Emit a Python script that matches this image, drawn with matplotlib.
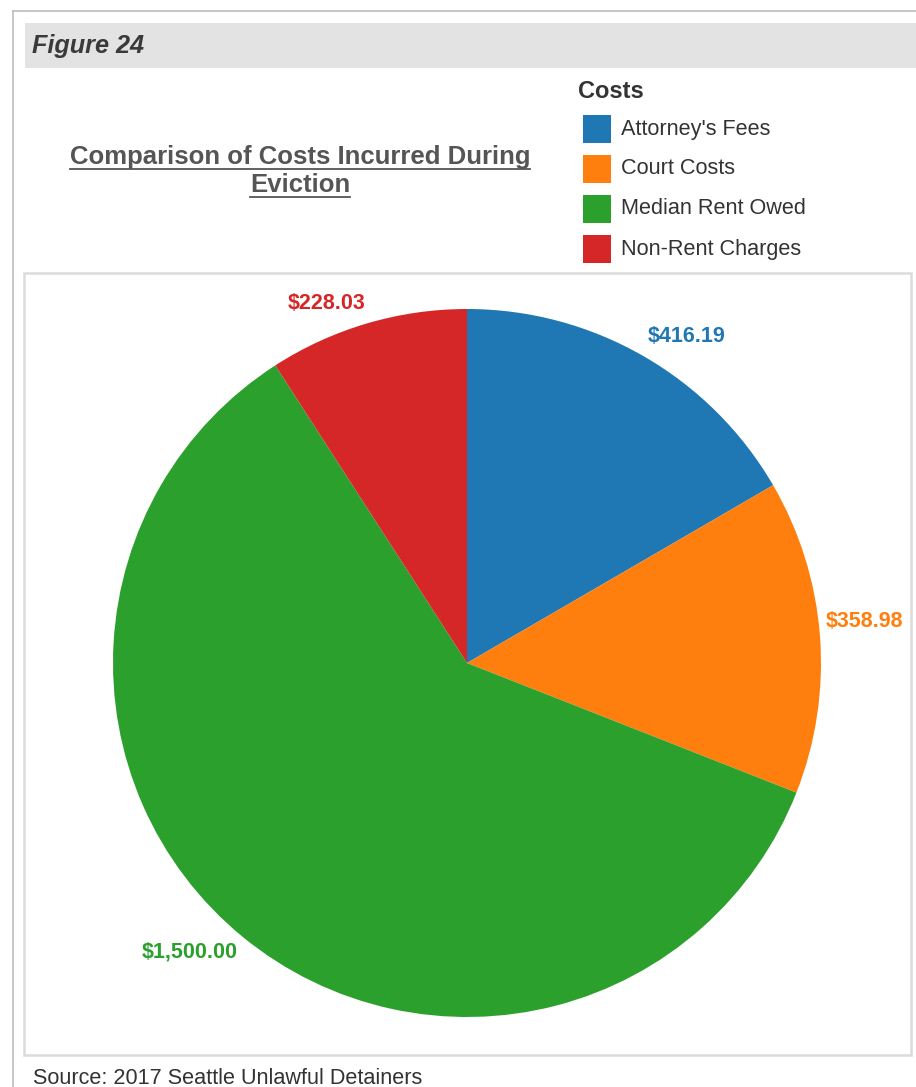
import numpy as np
import matplotlib
matplotlib.use("Agg")
import matplotlib.pyplot as plt
from matplotlib.patches import Rectangle
from matplotlib.lines import Line2D

categories = ["Attorney's Fees", "Court Costs", "Median Rent Owed", "Non-Rent Charges"]
values = [416.19, 358.98, 1500.00, 228.03]
labels = ["$416.19", "$358.98", "$1,500.00", "$228.03"]
colors = ["#1f77b4", "#ff7f0e", "#2ca02c", "#d62728"]

plt.rcParams['font.family'] = ['Liberation Sans', 'DejaVu Sans']

W, H = 916, 1087
fig = plt.figure(figsize=(W / 100, H / 100), dpi=100)
fig.patch.set_facecolor('white')

def px(x, y):
    return x / W, 1 - y / H

# outer frame lines
fig.add_artist(Line2D([13 / W, 13 / W], [px(0, 11)[1], 0], color='#bdbdbd', lw=1.2))
fig.add_artist(Line2D([13 / W, 1], [px(0, 11)[1]] * 2, color='#bdbdbd', lw=1.2))
# header band
fig.add_artist(Rectangle(px(25, 68), (W - 25) / W, 45 / H, color='#e3e3e3', lw=0))
fig.text(*px(32, 46), "Figure 24", fontsize=18.2, fontweight='bold', fontstyle='italic',
         color='#3a3a3a', va='center', ha='left')

# title with underline
tx = 300
t1 = fig.text(*px(tx, 157), "Comparison of Costs Incurred During", fontsize=18.5,
              fontweight='bold', color='#555555', ha='center', va='center')
t2 = fig.text(*px(tx, 185), "Eviction", fontsize=18.5, fontweight='bold',
              color='#555555', ha='center', va='center')
renderer = fig.canvas.get_renderer()
for t, uy in [(t1, 169), (t2, 197)]:
    bb = t.get_window_extent(renderer=renderer)
    fig.add_artist(Line2D([bb.x0 / W, bb.x1 / W], [px(0, uy)[1]] * 2,
                          color='#555555', lw=1.3))

# legend
fig.text(*px(578, 91), "Costs", fontsize=17, fontweight='bold', color='#333333',
         ha='left', va='center')
for i, (c, name) in enumerate(zip(colors, categories)):
    y0 = 115 + 40 * i
    fig.add_artist(Rectangle(px(583, y0 + 28), 28 / W, 28 / H, color=c, lw=0))
    fig.text(*px(621, y0 + 14), name, fontsize=15.6, color='#333333', ha='left', va='center')

# inner plot box
fig.add_artist(Rectangle(px(24, 1055), (911 - 24) / W, (1055 - 273) / H, fill=False,
                         edgecolor='#dcdcdc', lw=1.8))

# pie
cx, cy, r = 467, 663, 354
ax = fig.add_axes([(cx - r) / W, 1 - (cy + r) / H, 2 * r / W, 2 * r / H])
wedges, _ = ax.pie(values, colors=colors, startangle=90, counterclock=False,
                   radius=1, wedgeprops=dict(linewidth=0))
ax.set_xlim(-1, 1)
ax.set_ylim(-1, 1)
ax.set_aspect('equal')
ax.axis('off')

label_r = [1.11, 1.13, 1.13, 1.09]
label_shift = [-4, 1.6, -4.5, 5]
for w, lab, c, lr, sh in zip(wedges, labels, colors, label_r, label_shift):
    mid = np.deg2rad((w.theta1 + w.theta2) / 2 + sh)
    x, y = lr * np.cos(mid), lr * np.sin(mid)
    ax.text(x, y, lab, color=c, fontsize=15.5, fontweight='bold', ha='center', va='center',
            clip_on=False)

fig.text(*px(33, 1078), "Source: 2017 Seattle Unlawful Detainers", fontsize=15.6,
         color='#333333', ha='left', va='center')

fig.savefig("out.png", dpi=100)
